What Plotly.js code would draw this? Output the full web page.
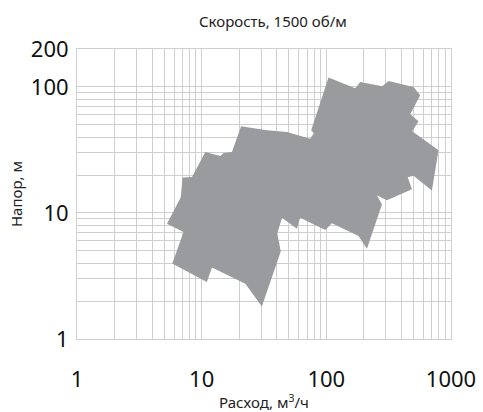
<!DOCTYPE html>
<html>
<head>
<meta charset="utf-8">
<script src="https://cdn.plot.ly/plotly-3.0.1.min.js"></script>
<style>html,body{margin:0;padding:0;background:#fff;}#chart{width:483px;height:412px;}</style>
</head>
<body>
<div id="chart"></div>
<script>
// Outline of the pump working area (flow m3/h, head m), traced clockwise
const flow = [5.27, 6.80, 7.03, 8.36, 10.7, 14.1, 15.0, 17.5, 20.7, 29.5, 33.4, 48.3, 74.3, 79.3, 75.6,
  104.1, 170.5, 187.1, 280.7, 315.4, 500.4, 566.2, 470.9, 548.8, 488.6, 793.9, 702.8, 500.4, 449.6, 485.9,
  306.2, 254.5, 279.2, 211.7, 181.3, 110.9, 98.0, 61.7, 58.1, 44.1, 40.4, 43.1, 30.4, 22.4, 12.1, 11.0, 5.81, 7.16];
const head = [8.22, 13.3, 19.1, 19.3, 30.5, 28.3, 29.9, 30.5, 48.7, 45.9, 45.3, 43.9, 38.8, 42.9, 45.3,
  118.8, 97.7, 109.6, 101.3, 111.6, 100, 85.9, 60.7, 53.4, 44.5, 31.4, 15.1, 19.7, 19.2, 15.4,
  12.6, 13.8, 11.7, 5.21, 6.58, 8.27, 7.34, 9.18, 7.50, 9.18, 6.89, 4.95, 1.81, 2.74, 3.70, 2.83, 3.98, 7.05];

const xTickVals = [1,2,3,4,5,6,7,8,9,10,20,30,40,50,60,70,80,90,100,200,300,400,500,600,700,800,900,1000];
const xLabels = {1:'1', 10:'10', 100:'100', 1000:'1000'};
const yTickVals = [1,2,3,4,5,6,7,8,9,10,20,30,40,50,60,70,80,90,100,200];
const yLabels = {1:'1', 10:'10', 100:'100', 200:'200'};

const titleText = 'Скорость, 1500 об/м';
const xTitle = 'Расход, м<sup>3</sup>/ч';
const yTitle = 'Напор, м';

const font = 'Noto Sans, Open Sans, sans-serif';
const gridCol = '#cfcfcf';

const trace = {
  type: 'scatter', mode: 'lines', x: flow, y: head,
  fill: 'toself', fillcolor: '#9a9b9f',
  line: {width: 0, color: '#9a9b9f'},
  hoverinfo: 'skip', showlegend: false
};

const layout = {
  width: 483, height: 412,
  margin: {l: 77, r: 32, t: 49, b: 73},
  paper_bgcolor: '#fff', plot_bgcolor: '#fff',
  font: {family: font, color: '#111'},
  title: {text: titleText, x: 0.565, xanchor: 'center', y: 0.947, yanchor: 'middle',
          font: {size: 15, family: font, color: '#222'}},
  xaxis: {
    type: 'log', range: [0, 3],
    tickmode: 'array', tickvals: xTickVals, ticktext: xTickVals.map(v => xLabels[v] || ''),
    showgrid: true, gridcolor: gridCol, gridwidth: 1,
    showline: true, linecolor: gridCol, linewidth: 1, mirror: true,
    ticks: '', ticklabelstandoff: 21,
    tickfont: {size: 22, family: font, color: '#111'},
    zeroline: false,
    title: {text: xTitle, font: {size: 15, family: font, color: '#222'}, standoff: 5}
  },
  yaxis: {
    type: 'log', range: [0, Math.log10(200)],
    tickmode: 'array', tickvals: yTickVals, ticktext: yTickVals.map(v => yLabels[v] || ''),
    showgrid: true, gridcolor: gridCol, gridwidth: 1,
    showline: true, linecolor: gridCol, linewidth: 1, mirror: true,
    ticks: '', ticklabelstandoff: 3,
    tickfont: {size: 22, family: font, color: '#111'},
    zeroline: false,
    title: {text: yTitle, font: {size: 15, family: font, color: '#222'}, standoff: 4}
  }
};

Plotly.newPlot('chart', [trace], layout, {staticPlot: true, displayModeBar: false});
</script>
</body>
</html>
